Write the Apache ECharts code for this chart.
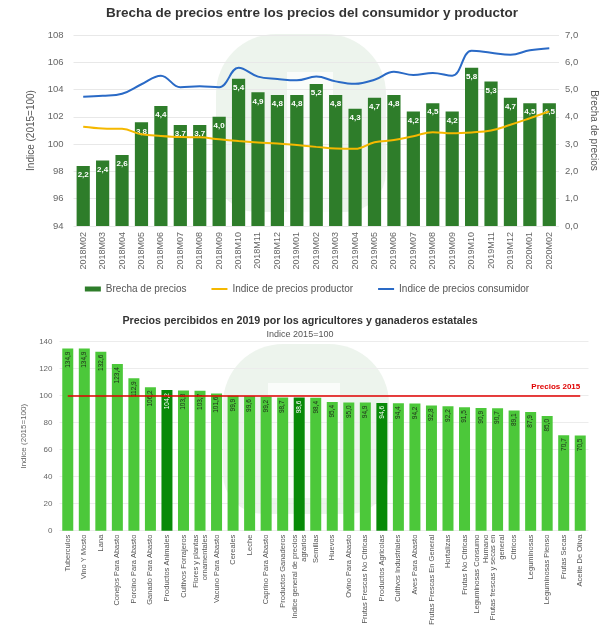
<!DOCTYPE html>
<html>
<head>
<meta charset="utf-8">
<script src="https://cdn.jsdelivr.net/npm/echarts@6/dist/echarts.min.js"></script>
<style>html,body{margin:0;padding:0;background:#fff}#c{width:614px;height:644px}</style>
</head>
<body>
<div id="c"></div>
<script>
// ---- Chart 1 data ----
const months = ["2018M02","2018M03","2018M04","2018M05","2018M06","2018M07","2018M08","2018M09","2018M10","2018M11","2018M12","2019M01","2019M02","2019M03","2019M04","2019M05","2019M06","2019M07","2019M08","2019M09","2019M10","2019M11","2019M12","2020M01","2020M02"];
const brecha = [2.2,2.4,2.6,3.8,4.4,3.7,3.7,4.0,5.4,4.9,4.8,4.8,5.2,4.8,4.3,4.7,4.8,4.2,4.5,4.2,5.8,5.3,4.7,4.5,4.5];
const productor = [101.28,101.15,101.12,100.72,100.6,100.52,100.5,100.36,100.23,100.12,100.05,99.93,99.8,99.68,99.66,100.14,100.3,100.58,100.88,100.8,100.86,101.0,101.42,101.9,102.4];
const consumidor = [103.48,103.55,103.7,104.39,105.02,104.17,104.24,104.17,105.6,104.95,104.78,104.68,104.95,104.6,104.42,104.72,105.3,105.07,105.22,105.02,106.85,106.7,106.55,106.88,107.03];
const leftTicks = {min:94, max:108, interval:2};
const rightTicks = {min:0, max:7, interval:1};

// ---- Chart 2 data ----
const cats2 = ["Tuberculos","Vino Y Mosto","Lana","Conejos Para Abasto","Porcino Para Abasto","Ganado Para Abasto","Productos Animales","Cultivos Forrajeros","Flores y plantas\nornamentales","Vacuno Para Abasto","Cereales","Leche","Caprino Para Abasto","Productos Ganaderos","Indice general de precios\nagrarios","Semillas","Huevos","Ovino Para Abasto","Frutas Frescas No Citricas","Productos Agricolas","Cultivos Industriales","Aves Para Abasto","Frutas Frescas En General","Hortalizas","Frutas No Citricas","Leguminosas Consumo\nHumano","Frutas frescas y secas en\ngeneral","Citricos","Leguminosas","Leguminosas Pienso","Frutas Secas","Aceite De Oliva"];
const vals2 = [134.9,134.9,132.6,123.4,112.9,106.2,104.2,103.8,103.7,101.6,99.9,99.6,99.2,98.7,98.6,98.4,95.4,95.0,94.9,94.6,94.4,94.2,92.8,92.2,91.5,90.9,90.7,89.1,87.9,85.0,70.7,70.5];
const highlighted = ["Productos Animales","Indice general de precios\nagrarios","Productos Agricolas"];
const refValue = 100;
const refLabel = "Precios 2015";

const fmt1 = v => Number(v).toFixed(1).replace('.', ',');
const FONT = 'Liberation Sans, Arial, sans-serif';

const chart = echarts.init(document.getElementById('c'), null, {renderer:'canvas'});

const wmFill = 'rgba(140,185,140,0.16)';
const wmInner = 'rgba(255,255,255,0.75)';

const option = {
  animation: false,
  textStyle: {fontFamily: FONT},
  graphic: [
    {type:'rect', z:-1, shape:{x:216,y:34,width:170,height:178,r:[60,60,40,40]}, style:{fill:wmFill}},
    {type:'rect', z:-1, shape:{x:287,y:72,width:46,height:140}, style:{fill:wmInner}},
    {type:'rect', z:-1, shape:{x:223,y:344,width:166,height:170,r:[60,60,40,40]}, style:{fill:wmFill}},
    {type:'rect', z:-1, shape:{x:268,y:383,width:72,height:115}, style:{fill:wmInner}}
  ],
  title: [
    {text:'Brecha de precios entre los precios del consumidor y productor', left:312, textAlign:'center', top:6, padding:0,
     textStyle:{fontSize:13.5, fontWeight:'bold', color:'#333', fontFamily:FONT}},
    {text:'Precios percibidos en 2019 por los agricultores y ganaderos estatales', subtext:'Indice 2015=100',
     left:300, textAlign:'center', top:316, padding:0, itemGap:3,
     textStyle:{fontSize:10.7, fontWeight:'bold', color:'#333', fontFamily:FONT},
     subtextStyle:{fontSize:9, color:'#555', fontFamily:FONT}}
  ],
  legend: {
    top: 279, left: 'center', itemGap: 24, itemWidth: 16, itemHeight: 5,
    textStyle: {fontSize: 10, color: '#555', fontFamily: FONT},
    data: [
      {name:'Brecha de precios', icon:'rect'},
      {name:'Indice de precios productor', itemStyle:{opacity:0}},
      {name:'Indice de precios consumidor', itemStyle:{opacity:0}}
    ]
  },
  grid: [
    {left:73.5, right:55, top:35, height:191},
    {left:59.5, right:25.5, top:341.7, height:189}
  ],
  xAxis: [
    {type:'category', gridIndex:0, data:months,
     axisLine:{show:false}, axisTick:{show:false},
     axisLabel:{rotate:90, interval:0, fontSize:9, color:'#666', margin:6, fontFamily:FONT}},
    {type:'category', gridIndex:1, data:cats2,
     axisLine:{show:false}, axisTick:{show:false},
     axisLabel:{rotate:90, interval:0, fontSize:7.5, lineHeight:9, color:'#555', margin:4, fontFamily:FONT}}
  ],
  yAxis: [
    {type:'value', gridIndex:0, min:leftTicks.min, max:leftTicks.max, interval:leftTicks.interval,
     name:'Indice (2015=100)', nameLocation:'middle', nameGap:28, nameRotate:90,
     nameTextStyle:{fontSize:10, color:'#555', fontFamily:FONT},
     axisLine:{show:false}, axisTick:{show:false},
     axisLabel:{fontSize:9.5, color:'#666', margin:10},
     splitLine:{lineStyle:{color:'#e8e8e8'}}},
    {type:'value', gridIndex:0, position:'right', min:rightTicks.min, max:rightTicks.max, interval:rightTicks.interval,
     name:'Brecha de precios', nameLocation:'middle', nameGap:28, nameRotate:-90,
     nameTextStyle:{fontSize:10, color:'#555', fontFamily:FONT},
     axisLine:{show:false}, axisTick:{show:false},
     axisLabel:{fontSize:9.5, color:'#666', margin:6, formatter:v=>fmt1(v)},
     splitLine:{show:false}},
    {type:'value', gridIndex:1, min:0, max:140, interval:20,
     name:'Indice (2015=100)', nameLocation:'middle', nameGap:16, nameRotate:90,
     nameTextStyle:{fontSize:8, color:'#666', fontFamily:FONT},
     axisLine:{show:false}, axisTick:{show:false},
     axisLabel:{fontSize:8, color:'#666', margin:7},
     splitLine:{lineStyle:{color:'#ececec'}}}
  ],
  series: [
    {name:'Brecha de precios', type:'bar', xAxisIndex:0, yAxisIndex:1, data:brecha, barWidth:'68%',
     itemStyle:{color:'#2e7d2a'},
     label:{show:true, position:'insideTop', distance:5, color:'#fff', fontSize:8, fontWeight:'bold', formatter:p=>fmt1(p.value)}},
    {name:'Indice de precios productor', type:'line', xAxisIndex:0, yAxisIndex:0, data:productor, smooth:0.4,
     symbol:'none', showSymbol:false, lineStyle:{color:'#f5b800', width:2}, itemStyle:{color:'#f5b800'}, z:3},
    {name:'Indice de precios consumidor', type:'line', xAxisIndex:0, yAxisIndex:0, data:consumidor, smooth:0.4,
     symbol:'none', showSymbol:false, lineStyle:{color:'#2a6ac6', width:2}, itemStyle:{color:'#2a6ac6'}, z:3},
    {name:'Precios 2019', type:'bar', xAxisIndex:1, yAxisIndex:2, barWidth:11,
     data: vals2.map((v,i)=>{
       const hi = highlighted.includes(cats2[i]);
       return {value:v, itemStyle:{color: hi ? '#088a08' : '#4cc83a'},
               label:{color: hi ? '#fff' : '#1d2b1a'}};
     }),
     label:{show:true, position:'insideTop', distance:3, rotate:90, align:'right', verticalAlign:'middle',
            fontSize:6.5, formatter:p=>fmt1(p.value)},
     markLine:{silent:true, symbol:'none',
       lineStyle:{color:'#e00000', width:1.5, type:'solid'},
       label:{show:true, position:'insideEndTop', formatter:refLabel, color:'#e00000', fontSize:8, fontWeight:'bold', distance:[0,5]},
       data:[[{coord:[cats2[0], refValue]},{coord:[cats2[cats2.length-1], refValue]}]]
     }}
  ]
};
chart.setOption(option);
</script>
</body>
</html>
